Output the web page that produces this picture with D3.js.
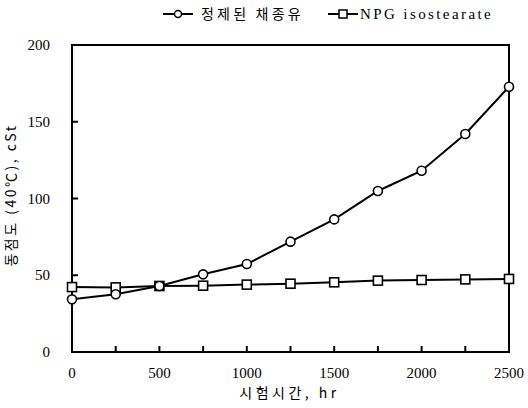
<!DOCTYPE html>
<html>
<head>
<meta charset="utf-8">
<script src="https://cdn.jsdelivr.net/npm/d3@7"></script>
<style>
  body { margin: 0; background: #fff; }
  svg { display: block; }
</style>
</head>
<body>
<svg id="chart" width="528" height="408"></svg>
<script>
const hours = [0, 250, 500, 750, 1000, 1250, 1500, 1750, 2000, 2250, 2500];
const rapeseedOil = [34.3, 37.6, 43, 50.6, 57.3, 71.9, 86.4, 104.9, 118.1, 142, 172.8];
const npgIsostearate = [42.3, 42.1, 43, 43.2, 43.9, 44.5, 45.4, 46.5, 46.9, 47.3, 47.6];
const xTickLabels = [0, 500, 1000, 1500, 2000, 2500];
const yTickLabels = [0, 50, 100, 150, 200];
const seriesNames = ['정제된 채종유', 'NPG isostearate'];

const W = 528, H = 408;
const margin = { top: 45, right: 19, bottom: 56, left: 72 };
const innerW = W - margin.left - margin.right;
const innerH = H - margin.top - margin.bottom;

const svg = d3.select('#chart');
const g = svg.append('g').attr('transform', `translate(${margin.left},${margin.top})`);

const x = d3.scaleLinear().domain([0, 2500]).range([0, innerW]);
const y = d3.scaleLinear().domain([0, 200]).range([innerH, 0]);

const serif = '"Liberation Serif", "DejaVu Serif", serif';
const kor = '"Noto Sans CJK KR", sans-serif';

// frame
g.append('rect')
  .attr('width', innerW).attr('height', innerH)
  .attr('fill', 'none').attr('stroke', '#000').attr('stroke-width', 2);

// inner ticks
g.selectAll('line.xt').data(hours.slice(1, -1)).join('line')
  .attr('class', 'xt')
  .attr('x1', d => x(d)).attr('x2', d => x(d))
  .attr('y1', innerH).attr('y2', innerH - 6)
  .attr('stroke', '#000').attr('stroke-width', 2);

g.selectAll('line.yt').data(yTickLabels.slice(1, -1)).join('line')
  .attr('class', 'yt')
  .attr('x1', 0).attr('x2', 6)
  .attr('y1', d => y(d)).attr('y2', d => y(d))
  .attr('stroke', '#000').attr('stroke-width', 2);

// tick labels
g.selectAll('text.xl').data(xTickLabels).join('text')
  .attr('class', 'xl')
  .attr('x', d => x(d)).attr('y', innerH + 26)
  .attr('text-anchor', 'middle')
  .attr('font-family', serif).attr('font-size', 15)
  .text(d => d);

g.selectAll('text.yl').data(yTickLabels).join('text')
  .attr('class', 'yl')
  .attr('x', -22).attr('y', d => y(d) + 5)
  .attr('text-anchor', 'end')
  .attr('font-family', serif).attr('font-size', 15)
  .text(d => d);

// axis titles
g.append('text')
  .attr('x', innerW / 2 - 1).attr('y', innerH + 46)
  .attr('text-anchor', 'middle')
  .attr('font-family', kor).attr('font-size', 14)
  .attr('letter-spacing', 3.5)
  .text('시험시간, hr');

svg.append('text')
  .attr('transform', `translate(16,195) rotate(-90)`)
  .attr('text-anchor', 'middle')
  .attr('font-family', kor).attr('font-size', 14)
  .attr('letter-spacing', 2.5)
  .text('동점도 (40℃), cSt');

// lines
const line = d3.line().x((d, i) => x(hours[i])).y(d => y(d));
[rapeseedOil, npgIsostearate].forEach(vals => {
  g.append('path').datum(vals)
    .attr('d', line)
    .attr('fill', 'none').attr('stroke', '#000').attr('stroke-width', 2);
});

// markers
g.selectAll('rect.sq').data(npgIsostearate).join('rect')
  .attr('class', 'sq')
  .attr('x', (d, i) => x(hours[i]) - 4.5).attr('y', d => y(d) - 4.5)
  .attr('width', 9).attr('height', 9)
  .attr('fill', '#fff').attr('stroke', '#000').attr('stroke-width', 1.6);

g.selectAll('circle.ci').data(rapeseedOil).join('circle')
  .attr('class', 'ci')
  .attr('cx', (d, i) => x(hours[i])).attr('cy', d => y(d))
  .attr('r', 4.5)
  .attr('fill', '#fff').attr('stroke', '#000').attr('stroke-width', 1.6);

// legend
const legend = svg.append('g').attr('transform', 'translate(0,14)');
const items = [
  { name: seriesNames[0], x0: 163, shape: 'circle', font: kor, size: 14, ls: 3.2, tx: 38 },
  { name: seriesNames[1], x0: 328, shape: 'square', font: serif, size: 15, ls: 2.4, tx: 32 },
];
items.forEach(it => {
  const row = legend.append('g').attr('transform', `translate(${it.x0},0)`);
  row.append('line').attr('x1', 0).attr('x2', 30).attr('y1', 0).attr('y2', 0)
    .attr('stroke', '#000').attr('stroke-width', 2);
  if (it.shape === 'circle') {
    row.append('circle').attr('cx', 15).attr('cy', 0).attr('r', 3.5)
      .attr('fill', '#fff').attr('stroke', '#000').attr('stroke-width', 1.5);
  } else {
    row.append('rect').attr('x', 11).attr('y', -4).attr('width', 8).attr('height', 8)
      .attr('fill', '#fff').attr('stroke', '#000').attr('stroke-width', 1.5);
  }
  row.append('text').attr('x', it.tx).attr('y', 5)
    .attr('font-family', it.font).attr('font-size', it.size)
    .attr('letter-spacing', it.ls)
    .text(it.name);
});
</script>
</body>
</html>
